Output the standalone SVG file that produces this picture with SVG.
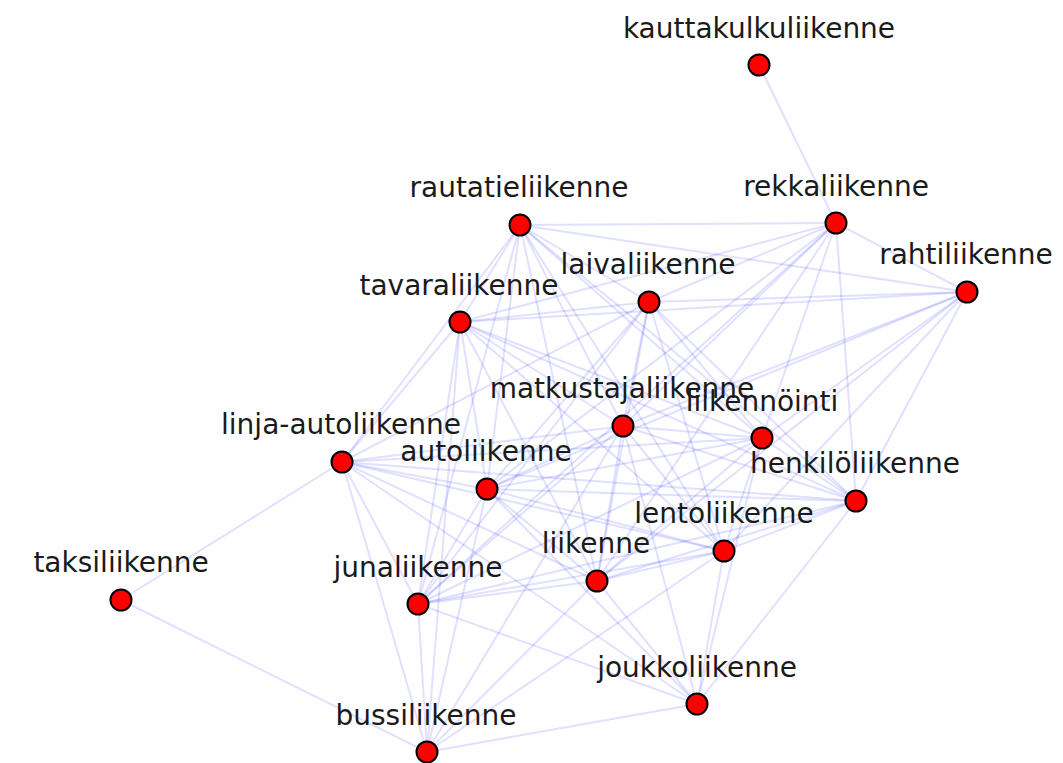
<svg xmlns="http://www.w3.org/2000/svg" width="1063" height="763" viewBox="0 0 1063 763">
<style>
.e{stroke:#0000ff;stroke-opacity:0.12;stroke-width:2;fill:none}
.n circle{fill:#ff0000;stroke:#000;stroke-width:2}
.n text{font-family:"DejaVu Sans",sans-serif;font-size:28px;fill:#1a1a1a;text-anchor:middle}
</style>
<rect width="1063" height="763" fill="#fff"/>
<g id="edges">
<line class="e" x1="759" y1="65" x2="836" y2="223"/>
<line class="e" x1="121" y1="600" x2="342" y2="462"/>
<line class="e" x1="121" y1="600" x2="427" y2="752"/>
<line class="e" x1="520" y1="225" x2="836" y2="223"/>
<line class="e" x1="520" y1="225" x2="967" y2="292"/>
<line class="e" x1="520" y1="225" x2="460" y2="322"/>
<line class="e" x1="520" y1="225" x2="649" y2="302"/>
<line class="e" x1="520" y1="225" x2="342" y2="462"/>
<line class="e" x1="520" y1="225" x2="487" y2="489"/>
<line class="e" x1="520" y1="225" x2="418" y2="604"/>
<line class="e" x1="520" y1="225" x2="623" y2="426"/>
<line class="e" x1="520" y1="225" x2="762" y2="438"/>
<line class="e" x1="520" y1="225" x2="856" y2="501"/>
<line class="e" x1="520" y1="225" x2="724" y2="551"/>
<line class="e" x1="520" y1="225" x2="597" y2="581"/>
<line class="e" x1="836" y1="223" x2="967" y2="292"/>
<line class="e" x1="836" y1="223" x2="460" y2="322"/>
<line class="e" x1="836" y1="223" x2="649" y2="302"/>
<line class="e" x1="836" y1="223" x2="623" y2="426"/>
<line class="e" x1="836" y1="223" x2="762" y2="438"/>
<line class="e" x1="836" y1="223" x2="487" y2="489"/>
<line class="e" x1="836" y1="223" x2="597" y2="581"/>
<line class="e" x1="836" y1="223" x2="856" y2="501"/>
<line class="e" x1="836" y1="223" x2="418" y2="604"/>
<line class="e" x1="967" y1="292" x2="649" y2="302"/>
<line class="e" x1="967" y1="292" x2="460" y2="322"/>
<line class="e" x1="967" y1="292" x2="623" y2="426"/>
<line class="e" x1="967" y1="292" x2="762" y2="438"/>
<line class="e" x1="967" y1="292" x2="487" y2="489"/>
<line class="e" x1="967" y1="292" x2="597" y2="581"/>
<line class="e" x1="967" y1="292" x2="724" y2="551"/>
<line class="e" x1="967" y1="292" x2="856" y2="501"/>
<line class="e" x1="649" y1="302" x2="460" y2="322"/>
<line class="e" x1="649" y1="302" x2="623" y2="426"/>
<line class="e" x1="649" y1="302" x2="762" y2="438"/>
<line class="e" x1="649" y1="302" x2="342" y2="462"/>
<line class="e" x1="649" y1="302" x2="487" y2="489"/>
<line class="e" x1="649" y1="302" x2="597" y2="581"/>
<line class="e" x1="649" y1="302" x2="724" y2="551"/>
<line class="e" x1="649" y1="302" x2="856" y2="501"/>
<line class="e" x1="649" y1="302" x2="418" y2="604"/>
<line class="e" x1="460" y1="322" x2="623" y2="426"/>
<line class="e" x1="460" y1="322" x2="762" y2="438"/>
<line class="e" x1="460" y1="322" x2="342" y2="462"/>
<line class="e" x1="460" y1="322" x2="487" y2="489"/>
<line class="e" x1="460" y1="322" x2="418" y2="604"/>
<line class="e" x1="460" y1="322" x2="597" y2="581"/>
<line class="e" x1="460" y1="322" x2="724" y2="551"/>
<line class="e" x1="460" y1="322" x2="856" y2="501"/>
<line class="e" x1="460" y1="322" x2="427" y2="752"/>
<line class="e" x1="623" y1="426" x2="762" y2="438"/>
<line class="e" x1="623" y1="426" x2="342" y2="462"/>
<line class="e" x1="623" y1="426" x2="487" y2="489"/>
<line class="e" x1="623" y1="426" x2="597" y2="581"/>
<line class="e" x1="623" y1="426" x2="724" y2="551"/>
<line class="e" x1="623" y1="426" x2="856" y2="501"/>
<line class="e" x1="623" y1="426" x2="418" y2="604"/>
<line class="e" x1="623" y1="426" x2="697" y2="704"/>
<line class="e" x1="623" y1="426" x2="427" y2="752"/>
<line class="e" x1="762" y1="438" x2="342" y2="462"/>
<line class="e" x1="762" y1="438" x2="487" y2="489"/>
<line class="e" x1="762" y1="438" x2="856" y2="501"/>
<line class="e" x1="762" y1="438" x2="724" y2="551"/>
<line class="e" x1="762" y1="438" x2="597" y2="581"/>
<line class="e" x1="762" y1="438" x2="418" y2="604"/>
<line class="e" x1="762" y1="438" x2="697" y2="704"/>
<line class="e" x1="342" y1="462" x2="487" y2="489"/>
<line class="e" x1="342" y1="462" x2="597" y2="581"/>
<line class="e" x1="342" y1="462" x2="724" y2="551"/>
<line class="e" x1="342" y1="462" x2="856" y2="501"/>
<line class="e" x1="342" y1="462" x2="418" y2="604"/>
<line class="e" x1="342" y1="462" x2="427" y2="752"/>
<line class="e" x1="342" y1="462" x2="697" y2="704"/>
<line class="e" x1="487" y1="489" x2="597" y2="581"/>
<line class="e" x1="487" y1="489" x2="724" y2="551"/>
<line class="e" x1="487" y1="489" x2="856" y2="501"/>
<line class="e" x1="487" y1="489" x2="418" y2="604"/>
<line class="e" x1="487" y1="489" x2="427" y2="752"/>
<line class="e" x1="487" y1="489" x2="697" y2="704"/>
<line class="e" x1="856" y1="501" x2="724" y2="551"/>
<line class="e" x1="856" y1="501" x2="597" y2="581"/>
<line class="e" x1="856" y1="501" x2="418" y2="604"/>
<line class="e" x1="856" y1="501" x2="697" y2="704"/>
<line class="e" x1="724" y1="551" x2="597" y2="581"/>
<line class="e" x1="724" y1="551" x2="418" y2="604"/>
<line class="e" x1="724" y1="551" x2="697" y2="704"/>
<line class="e" x1="724" y1="551" x2="427" y2="752"/>
<line class="e" x1="597" y1="581" x2="418" y2="604"/>
<line class="e" x1="597" y1="581" x2="697" y2="704"/>
<line class="e" x1="597" y1="581" x2="427" y2="752"/>
<line class="e" x1="418" y1="604" x2="427" y2="752"/>
<line class="e" x1="418" y1="604" x2="697" y2="704"/>
<line class="e" x1="697" y1="704" x2="427" y2="752"/>
</g>
<g id="n-kauttakulkuliikenne" class="n"><circle cx="759" cy="65" r="10.5"/><text x="759" y="38">kauttakulkuliikenne</text></g>
<g id="n-rautatieliikenne" class="n"><circle cx="520" cy="225" r="10.5"/><text x="519" y="197">rautatieliikenne</text></g>
<g id="n-rekkaliikenne" class="n"><circle cx="836" cy="223" r="10.5"/><text x="836" y="196">rekkaliikenne</text></g>
<g id="n-rahtiliikenne" class="n"><circle cx="967" cy="292" r="10.5"/><text x="966" y="264">rahtiliikenne</text></g>
<g id="n-laivaliikenne" class="n"><circle cx="649" cy="302" r="10.5"/><text x="648" y="274">laivaliikenne</text></g>
<g id="n-tavaraliikenne" class="n"><circle cx="460" cy="322" r="10.5"/><text x="459" y="295">tavaraliikenne</text></g>
<g id="n-matkustajaliikenne" class="n"><circle cx="623" cy="426" r="10.5"/><text x="622" y="398">matkustajaliikenne</text></g>
<g id="n-liikennointi" class="n"><circle cx="762" cy="438" r="10.5"/><text x="762" y="411">liikennöinti</text></g>
<g id="n-linja-autoliikenne" class="n"><circle cx="342" cy="462" r="10.5"/><text x="341" y="434">linja-autoliikenne</text></g>
<g id="n-autoliikenne" class="n"><circle cx="487" cy="489" r="10.5"/><text x="486" y="461">autoliikenne</text></g>
<g id="n-henkiloliikenne" class="n"><circle cx="856" cy="501" r="10.5"/><text x="855" y="473">henkilöliikenne</text></g>
<g id="n-lentoliikenne" class="n"><circle cx="724" cy="551" r="10.5"/><text x="724" y="523">lentoliikenne</text></g>
<g id="n-liikenne" class="n"><circle cx="597" cy="581" r="10.5"/><text x="596" y="553">liikenne</text></g>
<g id="n-taksiliikenne" class="n"><circle cx="121" cy="600" r="10.5"/><text x="121" y="572">taksiliikenne</text></g>
<g id="n-junaliikenne" class="n"><circle cx="418" cy="604" r="10.5"/><text x="418" y="577">junaliikenne</text></g>
<g id="n-joukkoliikenne" class="n"><circle cx="697" cy="704" r="10.5"/><text x="697" y="677">joukkoliikenne</text></g>
<g id="n-bussiliikenne" class="n"><circle cx="427" cy="752" r="10.5"/><text x="426" y="725">bussiliikenne</text></g>
</svg>
